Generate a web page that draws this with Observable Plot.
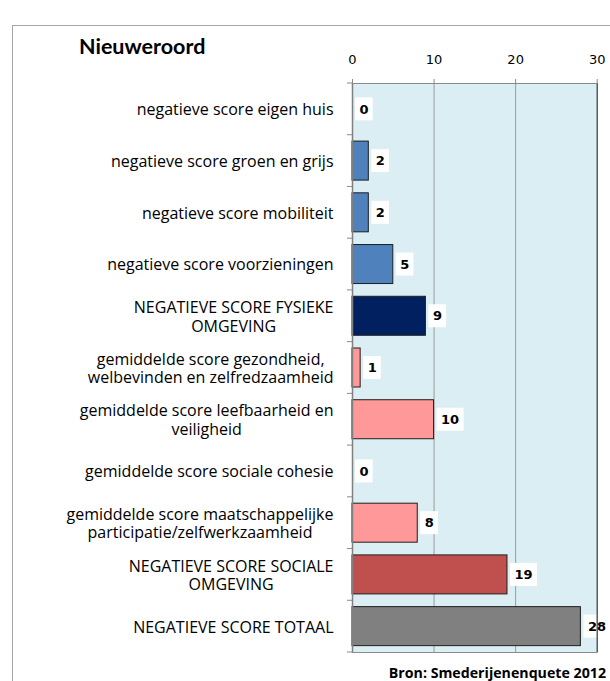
<!DOCTYPE html>
<html><head><meta charset="utf-8">
<script src="https://cdn.jsdelivr.net/npm/d3@7"></script>
<script src="https://cdn.jsdelivr.net/npm/@observablehq/plot@0.6"></script>
<style>
body{margin:0;background:#fff;width:610px;height:681px;overflow:hidden;position:relative}
#chart{position:absolute;left:0;top:0}
#frame{position:absolute;left:12px;top:25px;width:700px;height:700px;border-left:1px solid #a6a6a6;border-top:1px solid #a6a6a6}
#title{position:absolute;left:79px;top:36px;font:bold 21.5px Lato;line-height:21px;color:#000}
#caption{position:absolute;right:4px;top:666px;font:bold 14.2px "Open Sans";line-height:14px;color:#000}
</style></head><body>
<div id="chart"></div>
<div id="frame"></div>
<div id="title">Nieuweroord</div>
<div id="caption">Bron: Smederijenenquete 2012</div>
<script>
const categories = [
  "negatieve score eigen huis",
  "negatieve score groen en grijs",
  "negatieve score mobiliteit",
  "negatieve score voorzieningen",
  "NEGATIEVE SCORE FYSIEKE\nOMGEVING",
  "gemiddelde score gezondheid,\nwelbevinden en zelfredzaamheid",
  "gemiddelde score leefbaarheid en\nveiligheid",
  "gemiddelde score sociale cohesie",
  "gemiddelde score maatschappelijke\nparticipatie/zelfwerkzaamheid",
  "NEGATIEVE SCORE SOCIALE\nOMGEVING",
  "NEGATIEVE SCORE TOTAAL"
];
const values = [0, 2, 2, 5, 9, 1, 10, 0, 8, 19, 28];
const groups = ["fysiek", "fysiek", "fysiek", "fysiek", "fysiek totaal",
  "sociaal", "sociaal", "sociaal", "sociaal", "sociaal totaal", "totaal"];
const groupNames = ["fysiek", "fysiek totaal", "sociaal", "sociaal totaal", "totaal"];
const groupColors = ["#4F81BD", "#002060", "#FF9999", "#C0504D", "#808080"];
const xTicks = [0, 10, 20, 30];

const data = categories.map((c, i) => ({cat: c, value: values[i], group: groups[i]}));

const W = 610, H = 681;
const mTop = 83, mBottom = 29, mLeft = 352, mRight = 13.3;
const step = (H - mTop - mBottom) / categories.length;
const barInset = (step - 39) / 2;
const boxInset = (step - 23) / 2;

const labelSize = 16;
const labelFamily = "Open Sans";
const ctx = document.createElement("canvas").getContext("2d");
ctx.font = `${labelSize}px "${labelFamily}"`;
const labelMarks = categories.map((c) => {
  const maxW = d3.max(c.split("\n"), (l) => ctx.measureText(l).width);
  return Plot.text([c], {
    x: 0, y: (d) => d, text: (d) => d, textAnchor: "middle",
    dx: -19 - maxW / 2, lineHeight: 1.16, fontSize: labelSize, fontFamily: labelFamily, fill: "#000"
  });
});

const chart = Plot.plot({
  width: W, height: H,
  marginTop: mTop, marginBottom: mBottom, marginLeft: mLeft, marginRight: mRight,
  style: {background: "transparent", color: "#000"},
  x: {domain: [0, 30], axis: null},
  y: {domain: categories, type: "band", padding: 0, round: false, axis: null},
  color: {domain: groupNames, range: groupColors},
  marks: [
    Plot.frame({fill: "#DBEEF3"}),
    Plot.ruleX(xTicks.filter((v) => v > 0 && v < 30), {stroke: "#9a9a9a", strokeWidth: 1}),
    Plot.barX(data.filter((d) => d.value > 0), {
      x: "value", y: "cat", fill: "group", stroke: "#1e1e1e", strokeWidth: 1,
      insetTop: barInset, insetBottom: barInset
    }),
    Plot.barX(data.filter((d) => d.value < 10), {
      x1: "value", x2: "value", y: "cat", fill: "white",
      insetLeft: 3, insetRight: -20.7, insetTop: boxInset, insetBottom: boxInset
    }),
    Plot.barX(data.filter((d) => d.value >= 10), {
      x1: "value", x2: "value", y: "cat", fill: "white",
      insetLeft: 3, insetRight: -30, insetTop: boxInset, insetBottom: boxInset
    }),
    Plot.text(data, {
      x: "value", y: "cat", text: (d) => String(d.value), textAnchor: "start", dx: 7,
      fontWeight: "bold", fontSize: 13, fontFamily: "DejaVu Sans", fill: "#000"
    }),
    Plot.frame({stroke: "#8a8a8a", strokeWidth: 1}),
    Plot.ruleX([0], {stroke: "#808080", strokeWidth: 1.5}),
    Plot.ruleX([30], {stroke: "#3a3a3a", strokeWidth: 1}),
    Plot.barX(categories, {
      x1: 0, x2: 0, y: (d) => d, fill: "#8a8a8a",
      insetLeft: -5, insetRight: 0, insetTop: -0.5, insetBottom: step - 0.5
    }),
    Plot.barX(categories.slice(-1), {
      x1: 0, x2: 0, y: (d) => d, fill: "#8a8a8a",
      insetLeft: -5, insetRight: 0, insetTop: step - 0.5, insetBottom: -0.5
    }),
    Plot.axisX({
      anchor: "top", ticks: xTicks, tickSize: 5, tickPadding: 15, label: null,
      stroke: "#8a8a8a", fontSize: 13, fontFamily: "DejaVu Sans", fill: "#000"
    }),
    ...labelMarks
  ]
});
document.getElementById("chart").appendChild(chart);
</script>
</body></html>
